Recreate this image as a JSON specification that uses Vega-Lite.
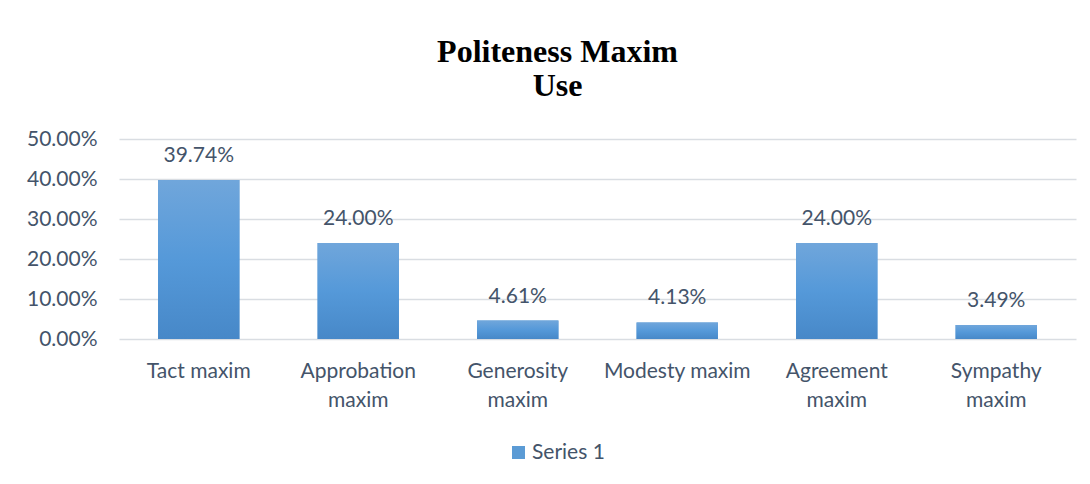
{
  "$schema": "https://vega.github.io/schema/vega-lite/v6.json",
  "autosize": "none",
  "width": 957,
  "height": 200,
  "padding": {"left": 119, "top": 139, "right": 14, "bottom": 145},
  "background": "white",
  "config": {
    "view": {"stroke": null},
    "font": "Lato",
    "axis": {"labelFont": "Lato", "labelFontSize": 21, "labelColor": "#44546a"},
    "legend": {"labelFont": "Lato", "labelFontSize": 21, "labelColor": "#44546a"}
  },
  "title": {
    "text": ["Politeness Maxim", "Use"],
    "font": "Liberation Serif",
    "fontSize": 32,
    "fontWeight": "bold",
    "color": "#000000",
    "lineHeight": 34,
    "anchor": "middle",
    "dx": -40,
    "offset": 25
  },
  "data": {
    "values": [
      {"maxim": "Tact maxim", "share": 0.3974, "series": "Series 1"},
      {"maxim": "Approbation maxim", "share": 0.24, "series": "Series 1"},
      {"maxim": "Generosity maxim", "share": 0.0461, "series": "Series 1"},
      {"maxim": "Modesty maxim", "share": 0.0413, "series": "Series 1"},
      {"maxim": "Agreement maxim", "share": 0.24, "series": "Series 1"},
      {"maxim": "Sympathy maxim", "share": 0.0349, "series": "Series 1"}
    ]
  },
  "encoding": {
    "x": {
      "field": "maxim",
      "type": "nominal",
      "sort": null,
      "title": null,
      "scale": {"paddingInner": 0.49, "paddingOuter": 0.245},
      "axis": {
        "labelAngle": 0,
        "domain": false,
        "ticks": false,
        "labelPadding": 21,
        "labelLineHeight": 29,
        "labelBaseline": "top",
        "labelExpr": "datum.label == 'Tact maxim' || datum.label == 'Modesty maxim' ? datum.label : split(datum.label, ' ')"
      }
    },
    "y": {
      "field": "share",
      "type": "quantitative",
      "title": null,
      "scale": {"domain": [0, 0.5], "nice": false},
      "axis": {
        "format": ".2%",
        "values": [0, 0.1, 0.2, 0.3, 0.4, 0.5],
        "domain": false,
        "ticks": false,
        "tickSize": 0,
        "labelPadding": 22,
        "grid": true,
        "gridColor": "#d9dde2",
        "gridWidth": 1.5
      }
    }
  },
  "layer": [
    {
      "mark": {"type": "bar"},
      "encoding": {
        "color": {
          "field": "series",
          "type": "nominal",
          "scale": {"range": ["#5b9bd5"]},
          "legend": {
            "title": null,
            "orient": "none",
            "legendX": 389,
            "legendY": 303,
            "symbolType": "square",
            "symbolSize": 169,
            "symbolStrokeWidth": 0,
            "labelOffset": 3
          }
        }
      }
    },
    {
      "mark": {
        "type": "bar",
        "color": {
          "gradient": "linear",
          "x1": 0, "y1": 0, "x2": 0, "y2": 1,
          "stops": [
            {"offset": 0, "color": "#70a6db"},
            {"offset": 0.5, "color": "#5599d9"},
            {"offset": 1, "color": "#4788c8"}
          ]
        }
      }
    },
    {
      "mark": {"type": "text", "baseline": "alphabetic", "dy": -18, "fontSize": 21, "font": "Lato", "color": "#44546a"},
      "encoding": {
        "text": {"field": "share", "type": "quantitative", "format": ".2%"}
      }
    }
  ]
}
